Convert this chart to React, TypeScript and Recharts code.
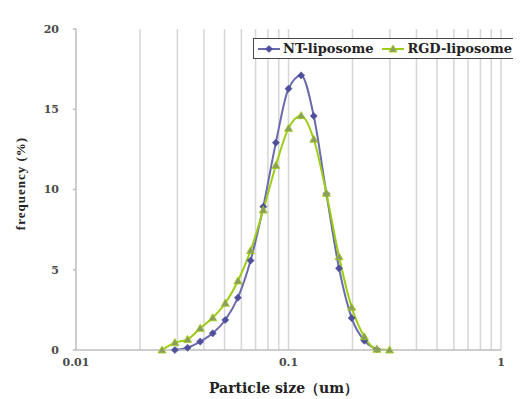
import React from "react";
import { LineChart, Line, XAxis, YAxis, ReferenceLine, Legend } from "recharts";

const ntSizes = [0.0292, 0.0335, 0.0384, 0.044, 0.0504, 0.0578, 0.0663, 0.0761, 0.0872, 0.1, 0.1147, 0.1315, 0.1508, 0.1729, 0.1983, 0.2274, 0.2607];
const ntFreq = [0, 0.14, 0.52, 1.04, 1.87, 3.26, 5.57, 8.93, 12.92, 16.28, 17.11, 14.58, 9.74, 5.09, 1.99, 0.58, 0.04];
const rgdSizes = [0.0254, 0.0292, 0.0335, 0.0384, 0.044, 0.0504, 0.0578, 0.0663, 0.0761, 0.0872, 0.1, 0.1147, 0.1315, 0.1508, 0.1729, 0.1983, 0.2274, 0.2607, 0.299];
const rgdFreq = [0, 0.46, 0.66, 1.35, 2.01, 2.91, 4.3, 6.19, 8.72, 11.5, 13.81, 14.6, 13.13, 9.76, 5.81, 2.66, 0.83, 0.04, 0];
const xTicks = [0.01, 0.1, 1];
const yTicks = [0, 5, 10, 15, 20];
const gridXs = [0.02, 0.03, 0.04, 0.05, 0.06, 0.07, 0.08, 0.09, 0.1, 0.2, 0.3, 0.4, 0.5, 0.6, 0.7, 0.8, 0.9, 1];

const ntData = ntSizes.map((x, i) => ({ x, y: ntFreq[i] }));
const rgdData = rgdSizes.map((x, i) => ({ x, y: rgdFreq[i] }));

const BLUE = "#6a6aae";
const BLUE_M = "#4f4f9c";
const GREEN = "#9ccc14";
const GREEN_M = "#8d9d62";
const FONT = "'DejaVu Serif', 'Liberation Serif', serif";
const FONT2 = "'Liberation Serif', 'DejaVu Serif', serif";

const Diamond = (props: any) => {
  const { cx, cy } = props;
  if (cx == null || cy == null) return null;
  const r = 3.6;
  return <path d={`M${cx},${cy - r}L${cx + r},${cy}L${cx},${cy + r}L${cx - r},${cy}Z`} fill={BLUE_M} stroke={BLUE_M} strokeWidth={0.5} />;
};

const Tri = (props: any) => {
  const { cx, cy } = props;
  if (cx == null || cy == null) return null;
  const r = 4;
  return <path d={`M${cx},${cy - r}L${cx + r},${cy + r * 0.75}L${cx - r},${cy + r * 0.75}Z`} fill={GREEN_M} stroke={GREEN} strokeWidth={0.8} />;
};

const LegendBox = (props: any) => {
  const payload = props.payload || [];
  return (
    <div
      style={{
        border: "1.5px solid #474747",
        height: 19,
        display: "flex",
        alignItems: "center",
        padding: "0 4px",
        whiteSpace: "nowrap",
        background: "#fff",
        fontFamily: FONT,
        fontWeight: "bold",
        fontSize: 13,
        color: "#222",
        width: 420,
        minWidth: 420,
      }}
    >
      {payload.map((p: any, i: number) => (
        <span key={i} style={{ display: "inline-flex", alignItems: "center", marginRight: 9, flexShrink: 0 }}>
          <svg width={22} height={10} style={{ marginRight: 3 }}>
            <line x1={0} y1={5} x2={22} y2={5} stroke={p.color} strokeWidth={2} />
            {i === 0 ? <Diamond cx={11} cy={5} /> : <Tri cx={11} cy={5} />}
          </svg>
          <span>{p.value}</span>
        </span>
      ))}
    </div>
  );
};

const YLabel = (props: any) => {
  const vb = props.viewBox || { x: 0, y: 0, width: 0, height: 0 };
  const x = vb.x + 12;
  const y = vb.y + vb.height / 2 - 6;
  return (
    <text x={x} y={y} transform={`rotate(-90, ${x}, ${y})`} textAnchor="middle" dominantBaseline="central" fontFamily={FONT2} fontWeight="bold" fontSize={13} letterSpacing={1} fill="#222">
      frequency (%)
    </text>
  );
};

const XLabel = (props: any) => {
  const vb = props.viewBox || { x: 0, y: 0, width: 0, height: 0 };
  const x = vb.x + vb.width / 2 - 5;
  const y = vb.y + 38;
  return (
    <text x={x} y={y} textAnchor="middle" dominantBaseline="central" fontFamily={FONT} fontWeight="bold" fontSize={14} fill="#222">
      Particle size（um）
    </text>
  );
};

export default function App() {
  return (
    <div
      style={{
        width: 513,
        height: 391,
        borderTop: "1px solid #d0d0d0",
        borderLeft: "1px solid #d0d0d0",
        margin: "-1px 0 0 -1px",
        overflow: "hidden",
        background: "#fff",
      }}
    >
      <LineChart width={513} height={391} margin={{ top: 21, right: 20, left: 0, bottom: 19 }}>
        <XAxis
          dataKey="x"
          type="number"
          scale="log"
          domain={[0.01, 1]}
          ticks={xTicks}
          allowDataOverflow
          stroke="#bdbdbd"
          strokeWidth={1.5}
          tickLine={false}
          tickMargin={2}
          height={30}
          tick={{ fontFamily: FONT, fontSize: 11, fontWeight: "bold", fill: "#4a4a4a" }}
          tickFormatter={(v: number) => String(v)}
          label={<XLabel />}
        />
        <YAxis
          type="number"
          domain={[0, 20]}
          ticks={yTicks}
          width={68}
          stroke="#bdbdbd"
          strokeWidth={1.5}
          tickSize={3}
          tickMargin={14}
          tick={{ fontFamily: FONT, fontSize: 11, fontWeight: "bold", fill: "#4a4a4a" }}
          label={<YLabel />}
        />
        {gridXs.map((g) => (
          <ReferenceLine key={g} x={g} stroke="#d6d6d6" strokeWidth={1.5} ifOverflow="extendDomain" />
        ))}
        <Line data={ntData} dataKey="y" name="NT-liposome" type="monotone" stroke={BLUE} strokeWidth={2} dot={<Diamond />} isAnimationActive={false} />
        <Line data={rgdData} dataKey="y" name="RGD-liposome" type="monotone" stroke={GREEN} strokeWidth={2} dot={<Tri />} isAnimationActive={false} />
        <Legend
          content={<LegendBox />}
          layout="horizontal"
          verticalAlign="middle"
          align="center"
          wrapperStyle={{ position: "absolute", top: 30, left: 245, width: 420, height: 22 }}
        />
      </LineChart>
    </div>
  );
}
